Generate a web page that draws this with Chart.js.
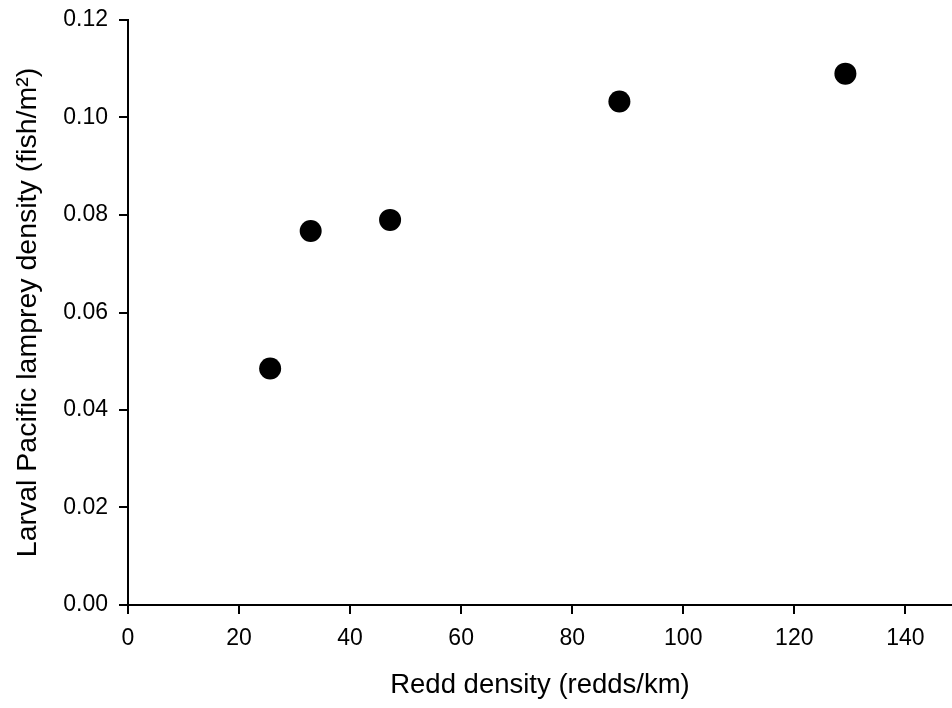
<!DOCTYPE html>
<html>
<head>
<meta charset="utf-8">
<script src="https://cdn.jsdelivr.net/npm/chart.js@4/dist/chart.umd.min.js"></script>
<style>
	html, body { margin: 0; padding: 0; background: #fff; overflow: hidden; }
	#wrap { width: 952px; height: 708px; }
</style>
</head>
<body>
<div id="wrap"><canvas id="scatterChart" width="952" height="708"></canvas></div>
<script>
// redd density (redds/km) vs larval lamprey density (fish/m2)
const reddDensity = [25.6, 32.9, 47.2, 88.5, 129.2];
const larvalDensity = [0.0485, 0.0767, 0.0790, 0.1033, 0.1090];

const xTickStep = 20;
const yTickStep = 0.02;

const points = reddDensity.map((x, i) => ({ x: x, y: larvalDensity[i] }));

const ctx = document.getElementById('scatterChart').getContext('2d');

// no extra room for edge labels, the axes sit on fixed pixel bounds
const noEdgePadding = (scale) => {
	scale.paddingLeft = 0;
	scale.paddingRight = 0;
	scale.paddingTop = 0;
	scale.paddingBottom = 0;
};

let data = {
	datasets: [
		{
			data: points,
			backgroundColor: '#000',
			borderWidth: 0,
			pointRadius: 11,
			pointHoverRadius: 11,
		},
	],
};

let options = {
	responsive: false,
	animation: false,
	layout: { autoPadding: false, padding: { top: 20, right: 0, left: 0, bottom: 0 } },
	plugins: { legend: { display: false }, tooltip: { enabled: false } },
	scales: {
		x: {
			type: 'linear',
			min: 0,
			max: 148.4,
			border: { color: '#000', width: 2 },
			grid: { drawOnChartArea: false, drawTicks: true, tickLength: 9, color: '#000', lineWidth: 2 },
			ticks: {
				stepSize: xTickStep,
				includeBounds: false,
				autoSkip: false,
				maxRotation: 0,
				padding: 11,
				color: '#000',
				font: { family: 'Liberation Sans, Arial, sans-serif', size: 23 },
			},
			title: {
				display: true,
				text: 'Redd density (redds/km)',
				color: '#000',
				padding: { top: 0, bottom: 6 },
				font: { family: 'Liberation Sans, Arial, sans-serif', size: 27.5 },
			},
			afterFit: (scale) => {
				scale.height = 103;
				noEdgePadding(scale);
			},
		},
		y: {
			type: 'linear',
			min: 0,
			max: 0.12,
			border: { color: '#000', width: 2 },
			grid: { drawOnChartArea: false, drawTicks: true, tickLength: 9, color: '#000', lineWidth: 2 },
			ticks: {
				stepSize: yTickStep,
				autoSkip: false,
				padding: 11,
				color: '#000',
				font: { family: 'Liberation Sans, Arial, sans-serif', size: 23 },
				callback: (v) => v.toFixed(2),
			},
			title: {
				display: true,
				text: 'Larval Pacific lamprey density (fish/m²)',
				color: '#000',
				padding: { top: 11, bottom: 0 },
				font: { family: 'Liberation Sans, Arial, sans-serif', size: 28.5 },
			},
			afterFit: (scale) => {
				scale.width = 128;
				noEdgePadding(scale);
			},
		},
	},
};

const chartConfig = {
	type: 'scatter',
	data,
	options,
};
new Chart(ctx, chartConfig);
</script>
</body>
</html>
